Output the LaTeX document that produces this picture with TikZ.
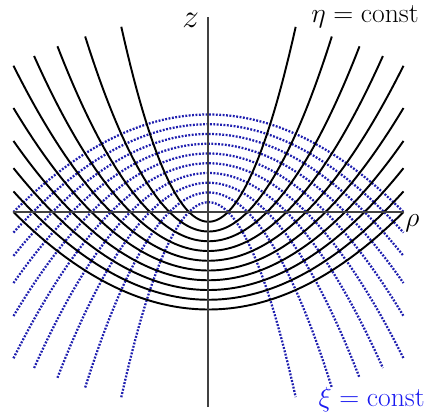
\documentclass[tikz,border=0pt]{standalone}
\usepackage{xcolor}
\definecolor{dotblue}{RGB}{30,30,175}
\definecolor{labelblue}{RGB}{25,25,240}
\definecolor{axisgray}{RGB}{65,65,65}
\begin{document}
\begin{tikzpicture}[x=14.625pt,y=14.625pt,
  etacurve/.style={black,line width=1.45pt},
  xicurve/.style={dotblue,line width=1.7pt,dash pattern=on 1.4pt off 1.15pt},
  axisline/.style={axisgray,line width=1.5pt},
  biglabel/.style={inner sep=0pt,font=\fontsize{20.5}{24}\selectfont}]
\useasboundingbox (-10.692,-10.615) rectangle (11.205,10.872);
% xi = const (blue dotted, opening downward)
\foreach \k in {1,...,10}{
  \pgfmathsetmacro\r{min(sqrt(20*\k),10)}
  \draw[xicurve] plot[domain=-\r:\r,samples=120,smooth] (\x,{\k/2-\x*\x/(2*\k)});
}
% eta = const (black, opening upward)
\foreach \k in {1,...,10}{
  \pgfmathsetmacro\r{min(sqrt(20*\k),10)}
  \draw[etacurve] plot[domain=-\r:\r,samples=120,smooth] (\x,{\x*\x/(2*\k)-\k/2});
}
% axes
\coordinate (zbot) at (0,-10);
\coordinate (ztop) at (0,10);
\coordinate (rleft) at (-10,0);
\coordinate (rright) at (10,0);
\draw[axisline] (zbot) -- (ztop);
\draw[axisline] (rleft) -- (rright);
% labels
\node[biglabel,font=\fontsize{23}{27}\selectfont] (zlab) at (-0.91,9.85) {$z$};
\node[biglabel,font=\fontsize{22}{26}\selectfont,anchor=base] (rholab) at (10.45,-0.72) {$\rho$};
\node[biglabel,anchor=base] (etalab) at (8.03,9.74) {$\eta=\mathrm{const}$};
\node[biglabel,anchor=base,text=labelblue] (xilab) at (8.37,-9.98) {$\xi=\mathrm{const}$};
\end{tikzpicture}
\end{document}
